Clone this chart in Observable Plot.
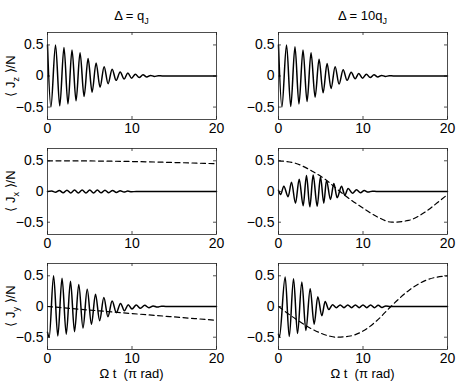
<!DOCTYPE html>
<html><head><meta charset="utf-8">
<script src="https://cdn.jsdelivr.net/npm/d3@7"></script>
<script src="https://cdn.jsdelivr.net/npm/@observablehq/plot@0.6"></script>
<style>
body{margin:0;background:#fff;font-family:"Liberation Sans",Arial,sans-serif;color:#000;}
#chart{position:relative;width:458px;height:382px;overflow:hidden;background:#fff;}
.panel{position:absolute;}
.txt{position:absolute;white-space:nowrap;transform:translate(-50%,-50%);font-size:13px;line-height:1;}
.ylab{position:absolute;white-space:nowrap;transform:translate(-50%,-50%) rotate(-90deg);font-size:13px;line-height:1;}
sub{font-size:9px;vertical-align:-4px;line-height:0;}
</style></head><body><div id="chart"></div><script>
// ---- data ----
const colTitles = ["Δ = q<sub>J</sub>", "Δ = 10q<sub>J</sub>"];
const rowLabels = ["⟨ J<sub>z</sub> ⟩/N", "⟨ J<sub>x</sub> ⟩/N", "⟨ J<sub>y</sub> ⟩/N"];
const xLabel = "Ω t&nbsp; (π rad)";
const xTicks = [0, 10, 20];
const yTicks = [-0.5, 0, 0.5];

// left column (Δ = qJ): extrema of the oscillating curves [t, value]
const jzLeft = [[0,0.5],[0.4,-0.5],[0.95,0.5],[1.45,-0.48],[1.95,0.46],[2.42,-0.45],[2.9,0.42],[3.38,-0.4],[3.85,0.375],[4.33,-0.33],[4.8,0.28],[5.28,-0.26],[5.75,0.21],[6.22,-0.18],[6.7,0.15],[7.17,-0.125],[7.65,0.11],[8.12,-0.07],[8.6,0.065],[9.07,-0.05],[9.5,0.05],[9.95,-0.035],[10.4,0.03],[10.85,-0.025],[11.3,0.02],[11.75,-0.015],[12.2,0.01],[12.65,-0.008],[13.1,0.005],[13.6,0],[20,0]];
const jxLeft = [[0,0],[0.5,0.008],[0.95,-0.012],[1.4,0.018],[1.85,-0.022],[2.3,0.022],[2.75,-0.025],[3.2,0.025],[3.65,-0.025],[4.1,0.025],[4.55,-0.025],[5.0,0.025],[5.45,-0.025],[5.9,0.025],[6.35,-0.022],[6.8,0.022],[7.25,-0.02],[7.7,0.018],[8.15,-0.015],[8.6,0.012],[9.05,-0.01],[9.5,0.007],[9.95,-0.004],[10.5,0],[20,0]];
const jxLeftDashed = [[0,0.5],[5,0.497],[10,0.488],[15,0.472],[20,0.452]];
const jyLeft = [[0,-0.42],[0.2,-0.5],[0.72,0.5],[1.22,-0.48],[1.72,0.46],[2.22,-0.45],[2.72,0.41],[3.2,-0.41],[3.7,0.36],[4.2,-0.35],[4.7,0.28],[5.2,-0.29],[5.68,0.2],[6.17,-0.23],[6.67,0.145],[7.15,-0.165],[7.65,0.09],[8.15,-0.1],[8.64,0.05],[9.1,-0.07],[9.55,0.03],[10.0,-0.04],[10.5,0.025],[11.0,-0.03],[11.5,0.02],[12.0,-0.02],[12.5,0.01],[13.0,-0.01],[13.5,0.005],[14,0],[20,0]];
const jyLeftDashed = [[0,0],[5,-0.058],[10,-0.115],[15,-0.17],[20,-0.225]];

// right column (Δ = 10qJ)
const jzRight = [[0,0.5],[0.4,-0.5],[0.95,0.5],[1.45,-0.49],[1.95,0.47],[2.42,-0.45],[2.9,0.42],[3.38,-0.41],[3.85,0.375],[4.33,-0.34],[4.8,0.27],[5.28,-0.27],[5.75,0.2],[6.22,-0.2],[6.7,0.15],[7.17,-0.13],[7.65,0.1],[8.12,-0.07],[8.6,0.06],[9.07,-0.045],[9.5,0.04],[9.95,-0.035],[10.4,0.03],[10.85,-0.025],[11.3,0.02],[11.75,-0.015],[12.2,0.01],[12.65,-0.008],[13.1,0.005],[13.6,0],[20,0]];
const jxRight = [[0,0.02],[0.25,-0.05],[0.63,0.085],[1.14,-0.085],[1.54,0.15],[2.01,-0.19],[2.45,0.2],[2.92,-0.23],[3.31,0.26],[3.71,-0.25],[4.1,0.27],[4.58,-0.24],[4.97,0.24],[5.36,-0.19],[5.68,0.18],[6.15,-0.13],[6.55,0.13],[6.94,-0.1],[7.46,0.085],[7.85,-0.06],[8.24,0.05],[8.76,-0.03],[9.23,0.03],[9.7,-0.02],[10.15,0.015],[10.6,-0.01],[11.1,0.005],[11.6,0],[20,0]];
const jxRightDashed = [[0,0.5],[2,0.46],[4,0.33],[5.5,0.2],[7.1,0.02],[8.5,-0.13],[9.9,-0.26],[11.8,-0.42],[13.4,-0.5],[15.4,-0.47],[17.4,-0.33],[19,-0.16],[20,-0.05]];
const jyRight = [[0,-0.45],[0.1,-0.5],[0.79,0.48],[1.27,-0.49],[1.78,0.45],[2.25,-0.44],[2.76,0.4],[3.24,-0.39],[3.75,0.29],[4.22,-0.29],[4.65,0.16],[5.13,-0.15],[5.52,0.08],[5.95,-0.05],[6.4,0.03],[6.85,-0.02],[7.3,0.025],[7.75,-0.02],[8.2,0.025],[8.65,-0.02],[9.1,0.025],[9.55,-0.02],[10.0,0.025],[10.45,-0.02],[10.9,0.025],[11.35,-0.02],[11.8,0.02],[12.25,-0.015],[12.7,0.01],[13.2,0],[20,0]];
const jyRightDashed = [[0,0],[2,-0.2],[4,-0.37],[6,-0.48],[6.8,-0.5],[8.5,-0.48],[10,-0.4],[11.8,-0.21],[13.3,0],[15.5,0.27],[17.5,0.43],[20,0.5]];

const panels = [
  [{solid: jzLeft}, {solid: jzRight}],
  [{solid: jxLeft, dashed: jxLeftDashed}, {solid: jxRight, dashed: jxRightDashed}],
  [{solid: jyLeft, dashed: jyLeftDashed}, {solid: jyRight, dashed: jyRightDashed}]
];

// ---- layout ----
const rowTop = [32, 148, 263];
const rowH = [87, 86, 86];
const colLeft = [0, 229];
const colML = [47, 49];
const svgW = 229, frameW = 169, mt = 4, mb = 24;

const chart = document.getElementById("chart");
const font = '"Liberation Sans", Arial, sans-serif';
const fmt = d => String(d).replace("-", "−");

panels.forEach((row, r) => {
  row.forEach((p, c) => {
    const fh = rowH[r];
    const marks = [
      Plot.tickX(xTicks, {x: d => d, insetTop: fh - 3, stroke: "#222", strokeWidth: 0.8}),
      Plot.tickX(xTicks, {x: d => d, insetBottom: fh - 3, stroke: "#222", strokeWidth: 0.8}),
      Plot.tickY(yTicks, {y: d => d, insetLeft: frameW - 3, stroke: "#222", strokeWidth: 0.8}),
      Plot.tickY(yTicks, {y: d => d, insetRight: frameW - 3, stroke: "#222", strokeWidth: 0.8}),
    ];
    if (p.dashed) marks.push(Plot.line(p.dashed, {x: d => d[0], y: d => d[1], curve: "monotone-x", stroke: "black", strokeWidth: 1.2, strokeDasharray: "5,3.5"}));
    marks.push(Plot.line(p.solid, {x: d => d[0], y: d => d[1], curve: "monotone-x", stroke: "black", strokeWidth: 1.5}));
    marks.push(Plot.frame({stroke: "#222", strokeWidth: 0.8}));
    const svg = Plot.plot({
      width: svgW,
      height: mt + fh + mb,
      marginTop: mt,
      marginBottom: mb,
      marginLeft: colML[c],
      marginRight: svgW - colML[c] - frameW,
      style: {fontFamily: font, fontSize: "14px", color: "black", background: "transparent"},
      x: {domain: [0, 20], ticks: xTicks, tickSize: 0, tickPadding: 4, tickFormat: fmt, label: null},
      y: {domain: [-0.7, 0.7], ticks: yTicks, tickSize: 0, tickPadding: 4, tickFormat: fmt, label: null},
      marks
    });
    svg.classList.add("panel");
    svg.style.left = colLeft[c] + "px";
    svg.style.top = (rowTop[r] - mt) + "px";
    chart.appendChild(svg);
  });
});

function addText(cls, html, x, y) {
  const d = document.createElement("div");
  d.className = cls;
  d.innerHTML = html;
  d.style.left = x + "px";
  d.style.top = y + "px";
  chart.appendChild(d);
}
const colCenter = [47 + frameW / 2, 229 + 49 + frameW / 2];
colTitles.forEach((t, c) => addText("txt", t, colCenter[c], 15));
rowLabels.forEach((t, r) => addText("ylab", t, 10, rowTop[r] + rowH[r] / 2));
colCenter.forEach(cx => addText("txt", xLabel, cx, 373));
</script></body></html>
